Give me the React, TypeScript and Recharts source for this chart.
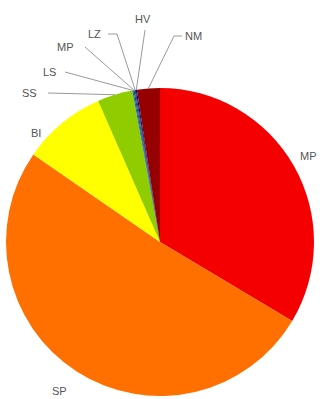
import React from "react";
import { PieChart, Pie, Cell } from "recharts";

const parties = ["MP", "SP", "BI", "SS", "LS", "MP", "LZ", "HV", "NM"];
const shares = [33.6, 51.1, 8.8, 3.7, 0.12, 0.12, 0.12, 0.12, 2.4];
const colors = ["#f50000", "#ff7000", "#ffff00", "#8fcc00", "#2060c0", "#005f3f", "#30309a", "#000070", "#960000"];

// label layout: text anchor point relative to pie centre, and optional elbow point
const labelLayout = [
  { tx: 140, ty: -86, anchor: "start", line: false },
  { tx: -108, ty: 149, anchor: "start", line: false },
  { tx: -129, ty: -109, anchor: "start", line: false },
  { tx: -138, ty: -149, anchor: "start", line: true, lx: -112, ly: -149 },
  { tx: -117, ty: -170, anchor: "start", line: true, lx: -95, ly: -170 },
  { tx: -103, ty: -195, anchor: "start", line: true, lx: -75, ly: -195 },
  { tx: -72, ty: -208, anchor: "start", line: true, lx: -52, ly: -208, ex: -43, ey: -208 },
  { tx: -25, ty: -223, anchor: "start", line: true, lx: -15, ly: -212 },
  { tx: 25, ty: -206, anchor: "start", line: true, lx: 22, ly: -206, ex: 14, ey: -206 },
];

const data = parties.map((name, i) => ({ name, value: shares[i] }));

const RADIAN = Math.PI / 180;

const renderLabel = (props: any) => {
  const { cx, cy, midAngle, outerRadius, index } = props;
  const cfg: any = labelLayout[index];
  const x = cx + cfg.tx;
  const y = cy + cfg.ty;
  const px = cx + outerRadius * Math.cos(-midAngle * RADIAN);
  const py = cy + outerRadius * Math.sin(-midAngle * RADIAN);
  const pts: string[] = [];
  if (cfg.line) {
    pts.push(`${cx + cfg.lx},${cy + cfg.ly}`);
    if (cfg.ex !== undefined) pts.push(`${cx + cfg.ex},${cy + cfg.ey}`);
    pts.push(`${px},${py}`);
  }
  return (
    <g key={`lbl-${index}`}>
      {cfg.line && (
        <polyline points={pts.join(" ")} fill="none" stroke="#9a9a9a" strokeWidth={1} />
      )}
      <text
        x={x}
        y={y}
        textAnchor={cfg.anchor}
        dominantBaseline="central"
        fill="#555"
        fontSize={11}
        fontFamily="Liberation Sans, Arial, sans-serif"
      >
        {parties[index]}
      </text>
    </g>
  );
};

export default function App() {
  return (
    <div style={{ position: "absolute", left: 0, top: 0, width: 324, height: 399, background: "#fff" }}>
      <PieChart width={324} height={399} margin={{ top: 0, right: 0, bottom: 0, left: 0 }}>
        <Pie
          data={data}
          dataKey="value"
          nameKey="name"
          cx={160}
          cy={242}
          outerRadius={154}
          startAngle={90}
          endAngle={-270}
          stroke="none"
          isAnimationActive={false}
          label={renderLabel}
          labelLine={false}
        >
          {data.map((d, i) => (
            <Cell key={i} fill={colors[i]} />
          ))}
        </Pie>
      </PieChart>
    </div>
  );
}
